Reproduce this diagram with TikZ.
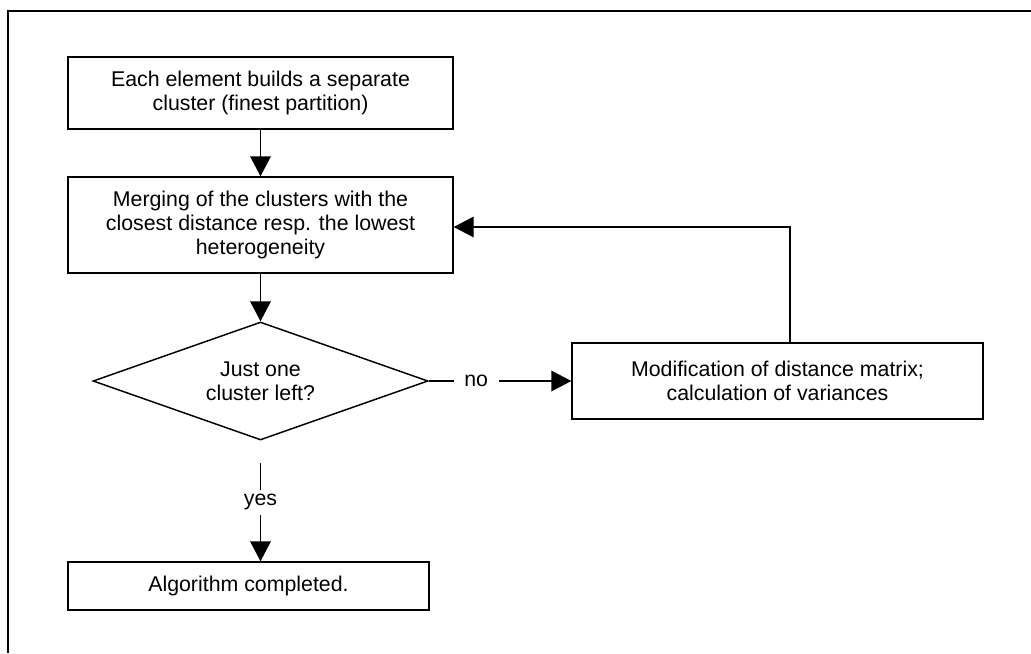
\documentclass[tikz,border=0pt]{standalone}
\usepackage{fontspec}
\setmainfont{Liberation Sans}
\usetikzlibrary{arrows.meta,shapes.geometric}
\begin{document}
\begin{tikzpicture}[x=0.75pt,y=-0.75pt,
  every node/.style={font=\fontsize{16pt}{18pt}\selectfont},
  procbox/.style={draw, line width=1.1pt, align=center, inner sep=0pt},
  decision/.style={draw, line width=1.1pt, diamond, align=center, inner sep=0pt, aspect=2.84},
  flow/.style={line width=1.1pt, -{Triangle[width=15.5pt,length=15pt]}},
  lbl/.style={fill=white, inner sep=0pt}]
\useasboundingbox (0,0) rectangle (1031,653);
\draw[line width=1.5pt] (8,653) -- (8,11) -- (1031,11);

\node[procbox, minimum width=385*0.75pt, minimum height=72*0.75pt] (b1) at (260.5,93)
  {Each element builds a separate\\cluster (finest partition)};
\node[procbox, minimum width=385*0.75pt, minimum height=96*0.75pt] (b2) at (260.5,225)
  {Merging of the clusters with the\\closest distance resp. the lowest\\heterogeneity};
\node[decision, minimum width=335*0.75pt, minimum height=118*0.75pt] (d) at (260.5,381)
  {Just one\\cluster left?};
\node[procbox, minimum width=411*0.75pt, minimum height=76*0.75pt] (b3) at (777.5,381)
  {Modification of distance matrix;\\calculation of variances};
\node[procbox, minimum width=361*0.75pt, minimum height=48*0.75pt] (b4) at (248.5,586)
  {Algorithm completed.};

\coordinate (up) at (790,227);
\coordinate (ys) at (260.5,463);

\draw[flow] (b1.south) -- (b2.north);
\draw[flow] (b2.south) -- (d.north);
\draw[flow] (d.east) -- node[lbl, pos=0.333, minimum width=45*0.75pt, minimum height=20*0.75pt] (no) {no} (b3.west);
\draw[flow] (b3.north -| up) -- (up) -- (up -| b2.east);
\draw[flow] (ys) -- node[lbl, pos=0.40, minimum height=25*0.75pt] (yes) {yes} (b4.north -| ys);
\end{tikzpicture}
\end{document}
